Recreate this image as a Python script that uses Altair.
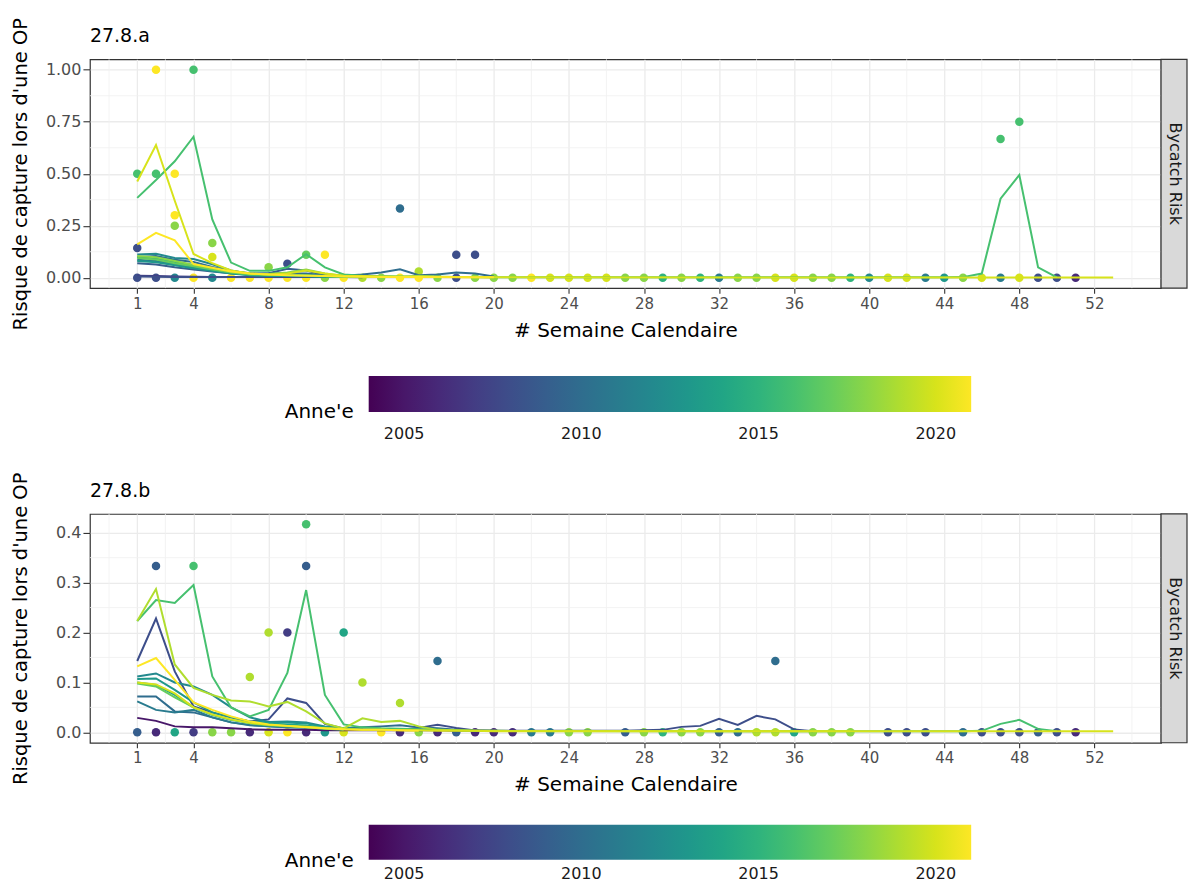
import altair as alt
import pandas as pd

FONT = "DejaVu Sans"

WEEK_TICKS = [1, 4, 8, 12, 16, 20, 24, 28, 32, 36, 40, 44, 48, 52]
WEEK_MINOR = [-0.5, 2.5, 6, 10, 14, 18, 22, 26, 30, 34, 38, 42, 46, 50, 54]
WEEK_DOMAIN = [-1.52, 55.55]
YEAR_DOMAIN = [2004, 2021]
LEGEND_YEARS = [2005, 2010, 2015, 2020]
X_TITLE = "# Semaine Calendaire"
Y_TITLE = "Risque de capture lors d'une OP"
STRIP = "Bycatch Risk"
LEGEND_TITLE = "Anne'e"

W1_20 = list(range(1, 21))

# ------------------------------------------------------------------ 27.8.a
A_TITLE = "27.8.a"
A_Y_TICKS = [0.0, 0.25, 0.5, 0.75, 1.0]
A_Y_MINOR = [0.125, 0.375, 0.625, 0.875]
A_Y_DOMAIN = [-0.05, 1.05]

A_LINES = {
    2007: (list(range(1, 14)), [0.01, 0.008, 0.006, 0.005, 0.004, 0.004, 0.003, 0.003, 0.003, 0.003, 0.003, 0.003, 0.002]),
    2008: (W1_20, [0.006, 0.005, 0.004, 0.004, 0.004, 0.004, 0.004, 0.004, 0.006, 0.005,
                   0.004, 0.003, 0.003, 0.003, 0.003, 0.003, 0.003, 0.004, 0.004, 0.003]),
    2009: (list(range(1, 14)), [0.07, 0.064, 0.05, 0.04, 0.03, 0.022, 0.016, 0.022, 0.043, 0.035, 0.012, 0.006, 0.004]),
    2010: (W1_20, [0.1, 0.104, 0.086, 0.076, 0.052, 0.032, 0.022, 0.02, 0.022, 0.02,
                   0.012, 0.01, 0.015, 0.025, 0.041, 0.012, 0.015, 0.025, 0.02, 0.006]),
    2011: (list(range(1, 13)), [0.086, 0.08, 0.066, 0.05, 0.036, 0.022, 0.014, 0.011, 0.01, 0.008, 0.006, 0.004]),
    2012: (list(range(1, 16)), [0.112, 0.115, 0.095, 0.09, 0.065, 0.035, 0.018, 0.012, 0.01, 0.008,
                                0.006, 0.005, 0.004, 0.004, 0.003]),
    2013: (list(range(1, 13)), [0.08, 0.074, 0.06, 0.046, 0.032, 0.02, 0.012, 0.009, 0.008, 0.007, 0.005, 0.004]),
    2014: (list(range(1, 15)), [0.1, 0.092, 0.075, 0.056, 0.04, 0.026, 0.016, 0.012, 0.01, 0.01,
                                0.006, 0.004, 0.003, 0.003]),
    2016: (W1_20 + [44, 45, 46, 47, 48, 49, 50],
           [0.384, 0.47, 0.56, 0.678, 0.28, 0.073, 0.033, 0.033, 0.05, 0.113,
            0.05, 0.016, 0.01, 0.008, 0.006, 0.005, 0.004, 0.003, 0.003, 0.002,
            0.002, 0.003, 0.02, 0.38, 0.494, 0.05, 0.002]),
    2017: (list(range(1, 17)), [0.095, 0.088, 0.07, 0.055, 0.04, 0.025, 0.016, 0.014, 0.013, 0.012,
                                0.008, 0.005, 0.004, 0.003, 0.003, 0.003]),
    2018: (W1_20, [0.105, 0.098, 0.08, 0.062, 0.045, 0.03, 0.02, 0.018, 0.025, 0.04,
                   0.02, 0.008, 0.006, 0.005, 0.004, 0.01, 0.006, 0.004, 0.003, 0.002]),
    2020: (W1_20 + [53], [0.463, 0.638, 0.37, 0.114, 0.07, 0.035, 0.02, 0.015, 0.02, 0.035,
                          0.02, 0.01, 0.008, 0.006, 0.005, 0.006, 0.004, 0.003, 0.002, 0.002, 0.001]),
    2021: (W1_20, [0.16, 0.216, 0.18, 0.066, 0.048, 0.03, 0.02, 0.015, 0.012, 0.01,
                   0.008, 0.006, 0.005, 0.004, 0.004, 0.003, 0.003, 0.002, 0.002, 0.002]),
}

A_PT_WEEK = [1, 1, 2, 2, 3, 3, 3, 4, 5, 5, 8, 9, 10, 11, 15, 16, 18, 19, 47, 48]
A_PT_VALUE = [0.5, 0.143, 1.0, 0.5, 0.5, 0.3, 0.25, 1.0, 0.167, 0.1, 0.05, 0.067, 0.111, 0.111,
              0.333, 0.03, 0.111, 0.111, 0.667, 0.75]
A_PT_YEAR = [2016, 2008, 2021, 2016, 2021, 2021, 2018, 2016, 2018, 2020, 2018, 2008, 2017, 2021,
             2010, 2019, 2008, 2008, 2016, 2016]

A_ZERO_WEEK = list(range(1, 52))
A_ZERO_YEAR = [2008, 2008, 2012, 2021, 2012, 2021, 2021, 2021, 2021, 2021,
               2018, 2021, 2019, 2018, 2021, 2021, 2018, 2008, 2018, 2018,
               2018, 2021, 2020, 2020, 2020, 2020, 2018, 2018, 2015, 2018,
               2015, 2011, 2018, 2018, 2020, 2020, 2018, 2018, 2015, 2012,
               2020, 2020, 2011, 2013, 2018, 2020, 2011, 2020, 2008, 2008,
               2006]

# ------------------------------------------------------------------ 27.8.b
B_TITLE = "27.8.b"
B_Y_TICKS = [0.0, 0.1, 0.2, 0.3, 0.4]
B_Y_MINOR = [0.05, 0.15, 0.25, 0.35]
B_Y_DOMAIN = [-0.0208, 0.4375]

B_LINES = {
    2005: (W1_20, [0.029, 0.023, 0.012, 0.01, 0.01, 0.008, 0.006, 0.005, 0.005, 0.005,
                   0.004, 0.004, 0.004, 0.004, 0.004, 0.004, 0.004, 0.003, 0.003, 0.003]),
    2008: (list(range(1, 38)), [0.143, 0.228, 0.122, 0.052, 0.04, 0.03, 0.022, 0.026, 0.068, 0.059,
                                0.017, 0.008, 0.006, 0.005, 0.005, 0.009, 0.015, 0.009, 0.004, 0.003,
                                0.003, 0.003, 0.003, 0.003, 0.003, 0.003, 0.003, 0.004, 0.005, 0.011,
                                0.013, 0.027, 0.015, 0.033, 0.026, 0.006, 0.002]),
    2010: (list(range(1, 20)), [0.072, 0.072, 0.042, 0.04, 0.03, 0.02, 0.015, 0.012, 0.01, 0.009,
                                0.008, 0.008, 0.01, 0.012, 0.014, 0.01, 0.008, 0.005, 0.003]),
    2011: (list(range(1, 13)), [0.062, 0.045, 0.04, 0.045, 0.03, 0.02, 0.014, 0.012, 0.01, 0.01, 0.008, 0.006]),
    2012: (list(range(1, 15)), [0.112, 0.118, 0.1, 0.092, 0.075, 0.05, 0.03, 0.021, 0.022, 0.02,
                                0.012, 0.008, 0.006, 0.005]),
    2013: (list(range(1, 14)), [0.107, 0.108, 0.085, 0.06, 0.04, 0.03, 0.022, 0.02, 0.02, 0.018,
                                0.01, 0.007, 0.006]),
    2014: (list(range(1, 14)), [0.1, 0.095, 0.075, 0.05, 0.035, 0.025, 0.02, 0.018, 0.016, 0.014,
                                0.01, 0.008, 0.006]),
    2016: (W1_20 + [45, 46, 47, 48, 49, 50],
           [0.223, 0.265, 0.259, 0.295, 0.112, 0.05, 0.032, 0.045, 0.119, 0.285,
            0.075, 0.016, 0.01, 0.008, 0.007, 0.006, 0.005, 0.004, 0.003, 0.003,
            0.002, 0.003, 0.017, 0.025, 0.007, 0.002]),
    2017: (list(range(1, 13)), [0.098, 0.092, 0.07, 0.05, 0.035, 0.025, 0.018, 0.014, 0.012, 0.01, 0.007, 0.005]),
    2019: (W1_20 + [39], [0.223, 0.287, 0.136, 0.089, 0.075, 0.064, 0.062, 0.052, 0.061, 0.042,
                          0.018, 0.008, 0.028, 0.021, 0.023, 0.012, 0.005, 0.004, 0.003, 0.003, 0.002]),
    2020: (W1_20 + [53], [0.1, 0.096, 0.078, 0.05, 0.036, 0.026, 0.019, 0.015, 0.013, 0.011,
                          0.008, 0.006, 0.005, 0.005, 0.004, 0.004, 0.003, 0.003, 0.003, 0.002, 0.002]),
    2021: (list(range(1, 17)), [0.132, 0.149, 0.105, 0.06, 0.045, 0.032, 0.022, 0.016, 0.013, 0.01,
                                0.008, 0.006, 0.005, 0.005, 0.004, 0.003]),
}

B_PT_WEEK = [2, 4, 7, 8, 9, 10, 10, 12, 13, 15, 17, 35]
B_PT_VALUE = [0.333, 0.333, 0.111, 0.2, 0.2, 0.4167, 0.333, 0.2, 0.1, 0.0588, 0.143, 0.143]
B_PT_YEAR = [2009, 2016, 2019, 2019, 2007, 2016, 2009, 2014, 2019, 2019, 2010, 2010]

B_ZERO_WEEK = [1, 2, 3, 4, 5, 6, 7, 8, 9, 10, 11, 12,
               14, 15, 16, 17, 18, 19, 20, 21, 22, 23, 24, 25,
               27, 28, 29, 30, 31, 32, 33, 34, 35, 36, 37, 38, 39,
               41, 42, 43,
               45, 46, 47, 48, 49, 50, 51]
B_ZERO_YEAR = [2009, 2006, 2014, 2007, 2018, 2018, 2006, 2020, 2021, 2006, 2013, 2020,
               2021, 2006, 2018, 2006, 2009, 2006, 2006, 2006, 2011, 2011, 2018, 2018,
               2009, 2018, 2015, 2018, 2018, 2009, 2010, 2019, 2019, 2014, 2018, 2018, 2018,
               2008, 2008, 2008,
               2010, 2008, 2008, 2008, 2009, 2008, 2006]

PLOT_W = 1072
STRIP_W = 26


def build_panel(title, lines, pt_w, pt_v, pt_y, z_w, z_y, y_ticks, y_minor, y_domain,
                y_fmt, height, leg_gap, leg_thick, leg_label_offset):
    line_rows = []
    for yr in sorted(lines):
        ws, vs = lines[yr]
        for w, v in zip(ws, vs):
            line_rows.append({"year": yr, "week": w, "risk": v})
    line_df = pd.DataFrame(line_rows)
    pts_df = pd.DataFrame({
        "week": list(z_w) + list(pt_w),
        "risk": [0.0 for _ in z_w] + list(pt_v),
        "year": list(z_y) + list(pt_y),
    })

    xscale = alt.Scale(domain=WEEK_DOMAIN, nice=False, zero=False)
    yscale = alt.Scale(domain=y_domain, nice=False, zero=False)
    xaxis = alt.Axis(values=WEEK_TICKS, title=X_TITLE, titleBaseline="alphabetic", titleY=48,
                     tickSize=5, labelPadding=3, labelFontSize=15, format="d")
    yaxis = alt.Axis(values=y_ticks, format=y_fmt, title=Y_TITLE, titleX=-59,
                     titleBaseline="bottom", tickSize=7, labelPadding=2, labelFontSize=16,
                     titleFontSize=19.5)
    X = alt.X("week:Q", scale=xscale, axis=xaxis)
    Y = alt.Y("risk:Q", scale=yscale, axis=yaxis)

    legend = alt.Legend(
        orient="none", legendX=195, legendY=height + leg_gap, direction="horizontal",
        gradientLength=603, gradientThickness=leg_thick, gradientStrokeWidth=0,
        title=LEGEND_TITLE, titleOrient="left", titleAnchor="middle",
        titleBaseline="line-top", titleLineHeight=36,
        titleFontSize=20, titleFont=FONT, titleFontWeight="normal", titleColor="#000000",
        titlePadding=14, labelFontSize=16, labelFont=FONT, labelColor="#1a1a1a",
        labelOffset=leg_label_offset, labelAlign="center", values=LEGEND_YEARS, format="d",
    )
    color_pts = alt.Color("year:Q", scale=alt.Scale(scheme="viridis", domain=YEAR_DOMAIN),
                          legend=legend)
    color_lns = alt.Color("year:Q", scale=alt.Scale(scheme="viridis", domain=YEAR_DOMAIN),
                          legend=None)

    vgrid = alt.Chart(pd.DataFrame({"week": WEEK_MINOR})).mark_rule(
        color="#f0f0f0", strokeWidth=0.8).encode(x=X)
    hgrid = alt.Chart(pd.DataFrame({"risk": y_minor})).mark_rule(
        color="#f0f0f0", strokeWidth=0.8).encode(y=Y)
    points = alt.Chart(pts_df).mark_circle(size=72, opacity=1).encode(x=X, y=Y, color=color_pts)
    lns = alt.Chart(line_df).mark_line(strokeWidth=2).encode(
        x=X, y=Y, color=color_lns, detail="year:N")

    title_df = pd.DataFrame({"t": [title]})
    title_txt = alt.Chart(title_df).mark_text(
        align="left", baseline="alphabetic", fontSize=19, font=FONT, color="#000000"
    ).encode(x=alt.value(0), y=alt.value(-17), text="t:N")

    strip_df = pd.DataFrame({"s": [STRIP]})
    strip_rect = alt.Chart(strip_df).mark_rect(
        fill="#d9d9d9", stroke="#333333", strokeWidth=1.2
    ).encode(x=alt.value(PLOT_W), x2=alt.value(PLOT_W + STRIP_W), y=alt.value(0), y2=alt.value(height))
    strip_txt = alt.Chart(strip_df).mark_text(
        angle=90, fontSize=16, font=FONT, color="#1a1a1a", align="center", baseline="middle"
    ).encode(x=alt.value(PLOT_W + STRIP_W / 2 + 1), y=alt.value(height / 2), text="s:N")

    return alt.layer(vgrid, hgrid, points, lns, title_txt, strip_rect, strip_txt).resolve_scale(
        color="independent"
    ).properties(width=PLOT_W, height=height)


panel_a = build_panel(A_TITLE, A_LINES, A_PT_WEEK, A_PT_VALUE, A_PT_YEAR, A_ZERO_WEEK, A_ZERO_YEAR,
                      A_Y_TICKS, A_Y_MINOR, A_Y_DOMAIN, ".2f", 229, 88, 36, 14)
panel_b = build_panel(B_TITLE, B_LINES, B_PT_WEEK, B_PT_VALUE, B_PT_YEAR, B_ZERO_WEEK, B_ZERO_YEAR,
                      B_Y_TICKS, B_Y_MINOR, B_Y_DOMAIN, ".1f", 229, 82, 35, 6)

chart = alt.vconcat(panel_a, panel_b, spacing=226, bounds="flush").resolve_scale(
    color="independent", x="independent", y="independent"
).properties(
    padding={"left": 2, "top": 8, "right": 0, "bottom": 0}
).configure_view(
    stroke="#333333", strokeWidth=1.2
).configure_axis(
    grid=True, gridColor="#ebebeb", gridWidth=1.3, domain=False,
    tickColor="#333333", tickWidth=1.1, labelColor="#4d4d4d", labelFont=FONT,
    titleFont=FONT, titleFontSize=20, titleFontWeight="normal", titleColor="#000000",
)

chart.save("out.html", embed_options={"renderer": "svg", "actions": False})
